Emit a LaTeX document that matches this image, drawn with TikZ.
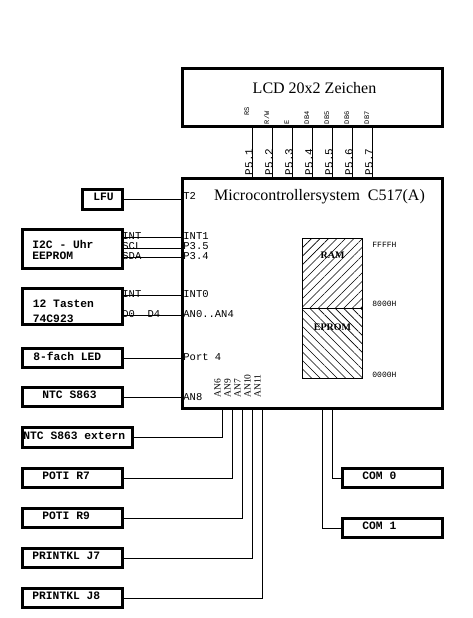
\documentclass[tikz,border=0pt]{standalone}
\usepackage{fontspec}
\setmainfont{Liberation Serif}
\setmonofont{Liberation Mono}
\usetikzlibrary{patterns.meta}

\begin{document}
\begin{tikzpicture}
  [x=1pt,y=-1pt,line width=0.8pt,
   blockN/.style={draw,line width=2.8pt,inner sep=0pt},
   blockT/.style={anchor=west,inner sep=0pt,font=\ttfamily\bfseries\fontsize{11.3}{13}\selectfont},
   pinT/.style={anchor=base west,inner sep=0pt,font=\ttfamily\fontsize{10.5}{11}\selectfont},
   pinV/.style={pinT,rotate=90},
   tinyV/.style={pinV,font=\ttfamily\fontsize{7}{8}\selectfont},
   anV/.style={pinV,font=\fontsize{9.5}{10}\selectfont},
   titleT/.style={anchor=base,inner sep=0pt,font=\fontsize{16}{18}\selectfont},
   memN/.style={draw,line width=0.8pt,minimum width=60,minimum height=70,inner sep=0pt},
   memT/.style={inner sep=0pt,font=\bfseries\fontsize{10}{12}\selectfont},
   addrT/.style={anchor=base west,inner sep=0pt,font=\ttfamily\fontsize{8}{9}\selectfont}]

  \useasboundingbox (0,0) rectangle (472,618);

  % LCD and controller
  \node at (312.5,97.5)  [blockN,minimum width=260,minimum height=58]  (lcd) {};
  \node at (312.5,293.5) [blockN,minimum width=260,minimum height=230] (mcu) {};
  \node at (314.5,93)  [titleT] (lcdT) {LCD 20x2 Zeichen};
  \node at (319.5,200) [titleT] (mcuT) {Microcontrollersystem\ \ C517(A)};

  \foreach \x/\p/\s/\b in {252.5/1/RS/116,272.5/2/{R/W}/124.5,292.5/3/E/124.5,
                           312.5/4/DB4/124.5,332.5/5/DB5/124.5,352.5/6/DB6/124.5,372.5/7/DB7/124.5}
  {
    \draw (\x,0 |- lcd.south) -- (\x,0 |- mcu.north);
    \node at (\x,175.5) [pinV,font=\ttfamily\fontsize{11}{12}\selectfont] (p5\p) {P5.\p};
    \node at (\x-3.5,\b) [tinyV] (lcd\p) {\s};
  }

  % blocks on the left
  \node at (102.5,199.5) [blockN,minimum width=40,minimum height=20]  (lfu)    {};
  \node at (72.5,249)    [blockN,minimum width=100,minimum height=39] (i2c)    {};
  \node at (72.5,306.5)  [blockN,minimum width=100,minimum height=36] (tasten) {};
  \node at (72.5,358)    [blockN,minimum width=100,minimum height=19] (led)    {};
  \node at (72.5,397)    [blockN,minimum width=100,minimum height=19] (ntc)    {};
  \node at (77.5,437.5)  [blockN,minimum width=110,minimum height=20] (ntcext) {};
  \node at (72.5,478)    [blockN,minimum width=100,minimum height=19] (potia)  {};
  \node at (72.5,518)    [blockN,minimum width=100,minimum height=19] (potib)  {};
  \node at (72.5,558)    [blockN,minimum width=100,minimum height=19] (prja)   {};
  \node at (72.5,598)    [blockN,minimum width=100,minimum height=19] (prjb)   {};
  \node at (392.5,478)   [blockN,minimum width=100,minimum height=19] (coma)   {};
  \node at (392.5,528)   [blockN,minimum width=100,minimum height=19] (comb)   {};

  \node at (93,197)     [blockT] (lfuT)    {LFU};
  \node at (32,244.5)   [blockT] (i2cT)    {I2C - Uhr};
  \node at (32,255.5)   [blockT] (eepT)    {EEPROM};
  \node at (32.5,304)   [blockT] (tastenT) {12 Tasten};
  \node at (32.5,318.5) [blockT] (keyT)    {74C923};
  \node at (33,356)     [blockT] (ledT)    {8-fach LED};
  \node at (42,395)     [blockT] (ntcT)    {NTC S863};
  \node at (23,436)     [blockT] (ntcextT) {NTC S863 extern};
  \node at (42,475.5)   [blockT] (potiaT)  {POTI R7};
  \node at (42,515.5)   [blockT] (potibT)  {POTI R9};
  \node at (32,555.5)   [blockT] (prjaT)   {PRINTKL J7};
  \node at (32,595.5)   [blockT] (prjbT)   {PRINTKL J8};
  \node at (362,475.5)  [blockT] (comaT)   {COM 0};
  \node at (362,525.5)  [blockT] (combT)   {COM 1};

  % connections to the left side
  \draw (lfu.east) -- (lfu.east -| mcu.west);
  \foreach \y in {237,248,257}
    \draw (i2c.east |- 0,\y) -- (mcu.west |- 0,\y);
  \foreach \y in {295,315}
    \draw (tasten.east |- 0,\y) -- (mcu.west |- 0,\y);
  \draw (led.east) -- (led.east -| mcu.west);
  \draw (ntc.east) -- (ntc.east -| mcu.west);

  \node at (183,199) [pinT] (t2)   {T2};
  \node at (183,239) [pinT] (int1) {INT1};
  \node at (183,249.5) [pinT] (p35)  {P3.5};
  \node at (183,259) [pinT] (p34)  {P3.4};
  \node at (183,297) [pinT] (int0) {INT0};
  \node at (183,317) [pinT] (an04) {AN0..AN4};
  \node at (183,360) [pinT] (port) {Port 4};
  \node at (183,400) [pinT] (an8)  {AN8};
  \node at (122,239) [pinT] (intA) {INT};
  \node at (122,249.5) [pinT] (scl)  {SCL};
  \node at (122,259) [pinT] (sda)  {SDA};
  \node at (122,297) [pinT] (intB) {INT};
  \node at (122,317) [pinT] (dat)  {D0\ \ D4};

  % connections at the bottom
  \foreach \x/\n in {222/an6,232/an9,242/an7,252/an10,262/an11,322/com1,332/com0}
    \coordinate (\n) at (\x,409);
  \draw (ntcext.east) -| (an6);
  \draw (potia.east) -| (an9);
  \draw (potib.east) -| (an7);
  \draw (prja.east) -| (an10);
  \draw (prjb.east) -| (an11);
  \draw (coma.west) -| (com0);
  \draw (comb.west) -| (com1);

  \node at (220.5,398) [anV] (an6T)  {AN6};
  \node at (230.5,398) [anV] (an9T)  {AN9};
  \node at (240.5,398) [anV] (an7T)  {AN7};
  \node at (250.5,398) [anV] (an10T) {AN10};
  \node at (260.5,398) [anV] (an11T) {AN11};

  % memory map
  \node at (332.5,273) [memN,pattern={Lines[angle=45,distance=6pt,line width=0.6pt]}]  (ram)   {};
  \node at (332.5,343) [memN,pattern={Lines[angle=-45,distance=6pt,line width=0.6pt]}] (eprom) {};
  \node at (332.5,255.5) [memT] (ramT)   {RAM};
  \node at (332.5,327)   [memT] (epromT) {EPROM};
  \node at (372,247) [addrT] (ffffT) {FFFFH};
  \node at (372,306) [addrT] (m8000T) {8000H};
  \node at (372,377) [addrT] (m0000T) {0000H};
\end{tikzpicture}
\end{document}
